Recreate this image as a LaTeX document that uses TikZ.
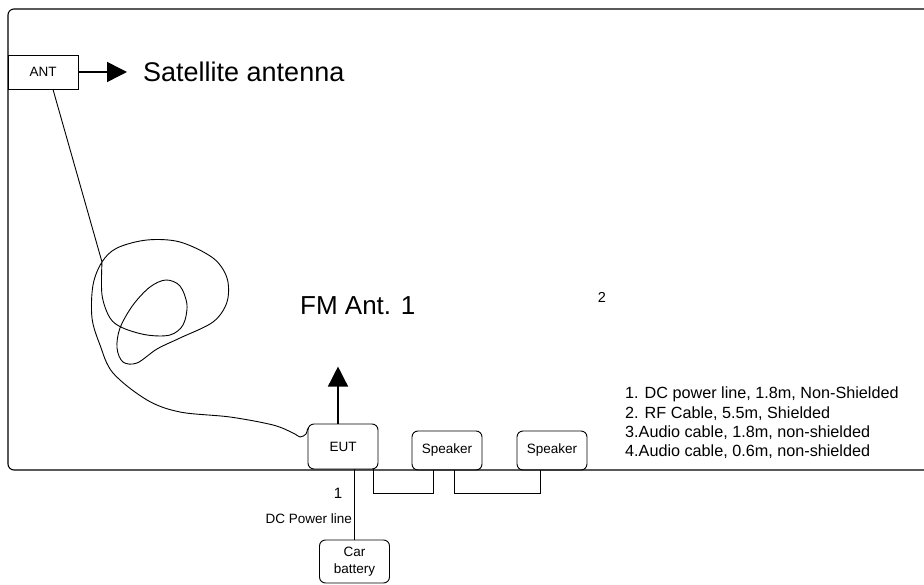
\documentclass[tikz,border=0pt]{standalone}
\usepackage{fontspec}
\setmainfont{Liberation Sans}
\usepackage{tikz}
\usetikzlibrary{arrows.meta, positioning, calc}

\begin{document}
\begin{tikzpicture}[
        x=1pt, y=-1pt,
        box/.style={rectangle, draw, line width=0.9pt, rounded corners=6pt, minimum width=70pt, inner sep=0pt, align=center, font=\fontsize{13.5}{17}\selectfont},
        label/.style={inner sep=0pt, font=\fontsize{13.5}{16}\selectfont},
        big/.style={inner sep=0pt, font=\fontsize{27}{32}\selectfont},
        arrow/.style={-{Triangle[length=20pt, width=20pt]}, line width=1.5pt},
        cable/.style={line width=0.9pt},
        frame/.style={line width=1.1pt, rounded corners=6pt}
    ]
    \useasboundingbox (0,0) rectangle (924,585);

    % Room outline
    \draw[frame] (924,9) -- (8,9) -- (8,470) -- (924,470);

    % Satellite antenna
    \node[box, rounded corners=0pt, minimum height=34pt] (ant) at (43,72) {ANT};
    \node[big, anchor=west] (sat) at (143,72) {Satellite antenna};
    \draw[arrow, shorten >=16pt] (ant.east) -- (sat.west);

    % Equipment
    \node[box, minimum height=45pt] (eut) at (343,446.5) {EUT};
    \node[box, minimum height=39pt] (spk1) at (447,450.5) {Speaker};
    \node[box, minimum height=39pt] (spk2) at (552,450.5) {Speaker};
    \node[box, minimum height=43pt] (battery) at (354.5,561.5) {Car\\battery};

    % FM antenna
    \node[big, font=\fontsize{26}{30}\selectfont, anchor=west] (fm) at (300,306) {FM Ant. 1};
    \draw[arrow] ([xshift=-5pt]eut.north) -- ++(0,-57);

    % RF cable (coiled)
    \draw[cable] ([xshift=10pt]ant.south) -- plot[smooth, tension=0.55] coordinates {
        (102,262) (102,295) (110,318) (123,328) (147,335) (170,335) (183,325)
        (187,305) (180,286) (166,280) (150,287) (133,305) (120,328) (117,348)
        (123,362) (137,363) (157,349) (180,338) (213,322) (227,302) (227,278)
        (213,258) (180,242) (147,240) (117,248) (102,262) (93,285) (92,318)
        (100,345) (113,373) (147,400) (180,412) (230,417) (273,425) (293,433)
        (300,437) (306,434) ([yshift=18pt]eut.west)};

    % Cable numbers
    \node[label, font=\fontsize{15}{18}\selectfont] (n1) at (338,493) {1};
    \node[label, font=\fontsize{14.5}{17}\selectfont] (n2) at (602,297) {2};
    \node[label, anchor=east] (dcline) at (352,519) {DC Power line};

    % Wiring below the table
    \draw[cable] (battery.north) -- (battery.north |- eut.south);
    \draw[cable] ([xshift=-5pt]eut.south east) -- ++(0,24) -| ([xshift=-14pt]spk1.south);
    \draw[cable] ([xshift=7pt]spk1.south) -- ++(0,23) -| ([xshift=-12pt]spk2.south);

    % Cable list
    \node[inner sep=0pt, anchor=north west, align=left, font=\fontsize{16.2}{19.3}\selectfont] (notes) at (625,387)
        {1. DC power line, 1.8m, Non-Shielded\\
         2. RF Cable, 5.5m, Shielded\\
         3.Audio cable, 1.8m, non-shielded\\
         4.Audio cable, 0.6m, non-shielded};

\end{tikzpicture}
\end{document}
